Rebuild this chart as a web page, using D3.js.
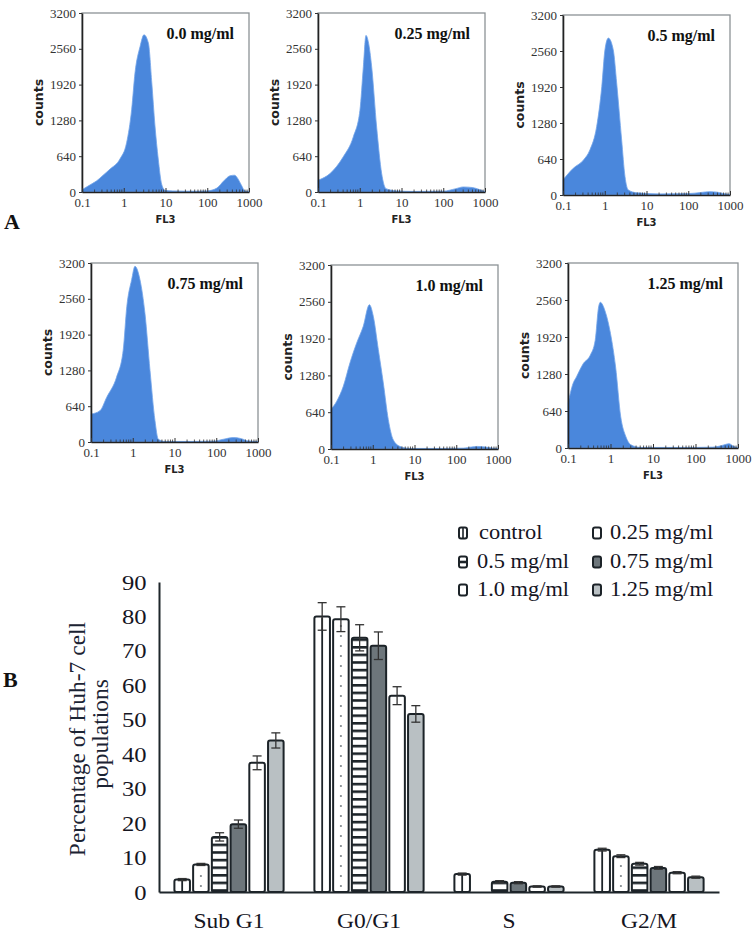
<!DOCTYPE html>
<html><head><meta charset="utf-8">
<script src="https://cdn.jsdelivr.net/npm/d3@7"></script>
<style>body{margin:0;background:#fff} svg{display:block}</style>
</head><body>
<svg id="c" width="755" height="934"></svg>
<script>
// ---------------- DATA ----------------
const histTitles = ["0.0 mg/ml","0.25 mg/ml","0.5 mg/ml","0.75 mg/ml","1.0 mg/ml","1.25 mg/ml"];
const histYTicks = [0,640,1280,1920,2560,3200];
const histXTicks = [0.1,1,10,100,1000];
const histXTickLabels = ["0.1","1","10","100","1000"];
// [FL3, counts]
const hist00 = [[0.1,40],[0.15,120],[0.225,200],[0.32,300],[0.47,410],[0.81,590],[1.17,880],[1.55,1480],[1.86,2130],[2.46,2600],[3.05,2810],[3.9,2660],[4.7,1950],[5.6,1180],[6.7,590],[8.1,140],[9.8,30],[15,20],[30,15],[60,15],[100,20],[170,70],[250,200],[350,290],[450,300],[550,230],[650,130],[800,20],[1000,10]];
const hist025 = [[0.1,210],[0.194,330],[0.4,626],[0.7,985],[1.01,1460],[1.22,2240],[1.41,2800],[1.6,2690],[1.93,2240],[2.54,1160],[3.35,330],[4.26,60],[7.7,20],[20,10],[100,15],[200,60],[300,90],[500,80],[700,50],[900,20],[1000,10]];
const hist05 = [[0.1,270],[0.176,475],[0.31,623],[0.44,800],[0.64,1216],[0.85,1930],[1.01,2580],[1.22,2790],[1.6,2580],[1.93,1990],[2.54,980],[3.05,330],[3.67,90],[5.8,40],[20,20],[100,25],[200,45],[330,60],[500,50],[700,25],[1000,10]];
const hist075 = [[0.1,500],[0.164,560],[0.238,800],[0.41,1160],[0.59,1640],[0.72,2420],[0.94,2900],[1.13,3140],[1.49,2900],[1.96,2300],[2.59,1280],[3.41,380],[4.09,50],[5.9,10],[30,10],[85,15],[150,50],[257,80],[400,60],[575,20],[1000,10]];
const hist10 = [[0.1,690],[0.137,830],[0.197,1090],[0.285,1500],[0.41,1840],[0.59,2130],[0.83,2510],[1.03,2310],[1.36,1730],[1.79,1150],[2.36,510],[3.1,160],[4.5,45],[7.8,10],[50,10],[148,15],[230,35],[316,45],[500,35],[760,15],[1000,10]];
const hist125 = [[0.1,770],[0.132,1120],[0.158,1230],[0.229,1460],[0.331,1600],[0.436,1860],[0.525,2440],[0.575,2520],[0.76,2350],[1.0,1980],[1.32,1400],[1.74,540],[2.29,200],[3.0,57],[5.2,10],[100,10],[250,15],[355,30],[500,60],[616,75],[750,40],[890,15],[1000,10]];

const categories = ["Sub G1","G0/G1","S","G2/M"];
const seriesNames = ["control","0.25 mg/ml","0.5 mg/ml","0.75 mg/ml","1.0 mg/ml","1.25 mg/ml"];
const valControl = [3.6, 80, 5.2, 12.3];
const val025     = [8, 79.2, 0, 10.4];
const val05      = [16, 73.8, 3, 8.2];
const val075     = [19.7, 71.5, 2.7, 7];
const val10      = [37.5, 57, 1.6, 5.6];
const val125     = [44, 51.7, 1.6, 4.3];
const errControl = [0.3, 4, 0.3, 0.4];
const err025     = [0.3, 3.6, 0, 0.4];
const err05      = [1.2, 3.8, 0.3, 0.4];
const err075     = [1.2, 4, 0.3, 0.4];
const err10      = [2, 2.6, 0.2, 0.3];
const err125     = [2.2, 2.4, 0.2, 0.3];
const barYTicks = [0,10,20,30,40,50,60,70,80,90];

// ---------------- SETUP ----------------
const svg = d3.select("#c");
const serif = "'Liberation Serif','Times New Roman',serif";
const sans = "'DejaVu Sans','Liberation Sans',sans-serif";
const defs = svg.append("defs");
const hp = defs.append("pattern").attr("id","hstripe").attr("patternUnits","userSpaceOnUse")
  .attr("width",10).attr("height",7.6);
hp.append("rect").attr("width",10).attr("height",7.6).attr("fill","#fff");
hp.append("rect").attr("y",0).attr("width",10).attr("height",2.6).attr("fill","#1c2328");

// ---------------- HISTOGRAMS ----------------
const histData = [hist00, hist025, hist05, hist075, hist10, hist125];
const boxes = [
  {x:82,y:13,w:167,h:179},
  {x:318,y:13,w:167,h:179},
  {x:563,y:15,w:167,h:180},
  {x:91,y:263,w:167,h:179},
  {x:331,y:265,w:167,h:184},
  {x:568,y:263,w:170,h:185}
];

histData.forEach((data,i)=>{
  const b = boxes[i];
  const g = svg.append("g").attr("transform",`translate(${b.x},${b.y})`);
  const x = d3.scaleLog().domain([0.1,1000]).range([0,b.w]);
  const y = d3.scaleLinear().domain([0,3200]).range([b.h,0]);
  g.append("rect").attr("width",b.w).attr("height",b.h).attr("fill","none")
    .attr("stroke","#8c9296").attr("stroke-width",1.3);
  const area = d3.area().x(d=>x(d[0])).y0(y(0)).y1(d=>y(d[1])).curve(d3.curveMonotoneX);
  g.append("path").datum(data).attr("d",area).attr("fill","#4a87dc")
    .attr("stroke","#72a5ea").attr("stroke-width",0.8);
  const minor = [];
  [0.1,1,10,100].forEach(dec=>{for(let k=2;k<=9;k++) minor.push(dec*k);});
  g.selectAll(".mt").data(minor).join("line")
    .attr("x1",d=>x(d)).attr("x2",d=>x(d)).attr("y1",b.h).attr("y2",b.h-2.5)
    .attr("stroke","#333").attr("stroke-width",0.8);
  const ya = g.append("g").call(d3.axisLeft(y).tickValues(histYTicks).tickFormat(d3.format("d"))
    .tickSize(3).tickSizeOuter(0).tickPadding(3));
  ya.select(".domain").attr("stroke","#222").attr("stroke-width",1.6);
  ya.selectAll(".tick line").attr("stroke","#333");
  ya.selectAll("text").attr("font-family",serif).attr("font-size",13).attr("fill","#333");
  const xa = g.append("g").attr("transform",`translate(0,${b.h})`)
    .call(d3.axisBottom(x).tickValues(histXTicks).tickFormat((d,j)=>histXTickLabels[j]).tickSize(-4).tickSizeOuter(0).tickPadding(6));
  xa.select(".domain").attr("stroke","#222").attr("stroke-width",1.6);
  xa.selectAll(".tick line").attr("stroke","#333");
  xa.selectAll("text").attr("font-family",serif).attr("font-size",13).attr("fill","#333");
  g.append("text").attr("transform",`translate(-44,${b.h/2}) rotate(-90)`)
    .attr("text-anchor","middle").attr("dominant-baseline","central")
    .attr("font-family",sans).attr("font-weight","bold").attr("font-size",12.5).attr("fill","#222")
    .text("counts");
  g.append("text").attr("x",x(10)).attr("y",b.h+31).attr("text-anchor","middle")
    .attr("font-family",sans).attr("font-weight","bold").attr("font-size",10).attr("fill","#222")
    .text("FL3");
  g.append("text").attr("x",b.w-15).attr("y",26).attr("text-anchor","end")
    .attr("font-family",serif).attr("font-weight","bold").attr("font-size",16).attr("fill","#111")
    .text(histTitles[i]);
});

svg.append("text").attr("x",4).attr("y",229).attr("font-family",serif).attr("font-weight","bold")
  .attr("font-size",22).attr("fill","#111").text("A");
svg.append("text").attr("x",3).attr("y",687).attr("font-family",serif).attr("font-weight","bold")
  .attr("font-size",22).attr("fill","#111").text("B");

// ---------------- BAR CHART ----------------
const vals = [valControl,val025,val05,val075,val10,val125];
const errs = [errControl,err025,err05,err075,err10,err125];
const fills = ["#ffffff","#ffffff","url(#hstripe)","#6d767b","#ffffff","#b9c0c3"];
const table = [];
seriesNames.forEach((s,si)=>categories.forEach((c,ci)=>table.push({s,si,c,v:vals[si][ci],e:errs[si][ci]})));

const x0 = d3.scaleBand().domain(categories).range([159,719]).paddingInner(0.22).paddingOuter(0.11);
const x1 = d3.scaleBand().domain(seriesNames).range([0,x0.bandwidth()]).paddingInner(0.17);
const yb = d3.scaleLinear().domain([0,90]).range([892,582]);
const bx = d=>x0(d.c)+x1(d.s);
const bw = x1.bandwidth();

const bars = svg.append("g");
bars.selectAll("rect").data(table.filter(d=>d.v>0)).join("rect")
  .attr("x",bx).attr("y",d=>yb(d.v)).attr("width",bw).attr("height",d=>yb(0)-yb(d.v))
  .attr("rx",2).attr("fill",d=>fills[d.si]).attr("stroke","#1c2328").attr("stroke-width",2);
bars.selectAll(".cl").data(table.filter(d=>d.si===0)).join("line")
  .attr("x1",d=>bx(d)+bw/2).attr("x2",d=>bx(d)+bw/2).attr("y1",d=>yb(d.v)+1).attr("y2",yb(0))
  .attr("stroke","#1c2328").attr("stroke-width",1.8);
const dots = [];
table.filter(d=>d.si===1 && d.v>0).forEach(d=>{
  d3.range(yb(0)-6, yb(d.v)+4, -10).forEach(yy=>dots.push({x:bx(d)+bw/2, y:yy}));
});
bars.selectAll(".dt").data(dots).join("circle").attr("cx",d=>d.x).attr("cy",d=>d.y).attr("r",1.1).attr("fill","#7f878c");
const eg = svg.append("g").attr("stroke","#333").attr("stroke-width",1.3);
table.filter(d=>d.e>0 && d.v>0).forEach(d=>{
  const cx = bx(d)+bw/2;
  eg.append("line").attr("x1",cx).attr("x2",cx).attr("y1",yb(d.v-d.e)).attr("y2",yb(d.v+d.e));
  eg.append("line").attr("x1",cx-4.5).attr("x2",cx+4.5).attr("y1",yb(d.v+d.e)).attr("y2",yb(d.v+d.e));
  eg.append("line").attr("x1",cx-4.5).attr("x2",cx+4.5).attr("y1",yb(d.v-d.e)).attr("y2",yb(d.v-d.e));
});

const yA = svg.append("g").attr("transform","translate(159,0)")
  .call(d3.axisLeft(yb).tickValues(barYTicks).tickSize(0).tickPadding(11));
yA.select(".domain").attr("stroke","#1e262b").attr("stroke-width",2);
yA.selectAll("text").attr("font-family",serif).attr("font-size",22).attr("fill","#15151f")
  .attr("transform","scale(1.12,1)");
const xA = svg.append("g").attr("transform","translate(0,892)")
  .call(d3.axisBottom(x0).tickSize(0).tickPadding(21));
xA.select(".domain").attr("stroke","#1e262b").attr("stroke-width",2);
xA.selectAll("text").attr("font-family",serif).attr("font-size",21).attr("fill","#15151f")
  .attr("transform","scale(1.12,1)");

svg.append("text").attr("transform","translate(85,739) rotate(-90)").attr("text-anchor","middle")
  .attr("font-family",serif).attr("font-size",23.5).attr("fill","#1b2333").text("Percentage of Huh-7 cell");
svg.append("text").attr("transform","translate(108,734) rotate(-90)").attr("text-anchor","middle")
  .attr("font-family",serif).attr("font-size",23.5).attr("fill","#1b2333").text("populations");

const legPos = [
  {sx:459, tx:479, cy:533},{sx:593, tx:610, cy:533},
  {sx:459, tx:477, cy:562},{sx:593, tx:610, cy:562},
  {sx:459, tx:477, cy:590},{sx:593, tx:610, cy:590}
];
seriesNames.forEach((s,i)=>{
  const p = legPos[i];
  svg.append("rect").attr("x",p.sx).attr("y",p.cy-5.5).attr("width",8).attr("height",11).attr("rx",2)
    .attr("fill",i===2?"#fff":fills[i]).attr("stroke","#1c2328").attr("stroke-width",2);
  if(i===0) svg.append("line").attr("x1",p.sx+4).attr("x2",p.sx+4).attr("y1",p.cy-5).attr("y2",p.cy+5)
    .attr("stroke","#1c2328").attr("stroke-width",1.6);
  if(i===2) svg.append("line").attr("x1",p.sx).attr("x2",p.sx+8).attr("y1",p.cy).attr("y2",p.cy)
    .attr("stroke","#1c2328").attr("stroke-width",2.6);
  svg.append("text").attr("transform",`translate(${p.tx},${p.cy+6}) scale(1.12,1)`)
    .attr("font-family",serif).attr("font-size",20).attr("fill","#15151f").text(s);
});
</script>
</body></html>
